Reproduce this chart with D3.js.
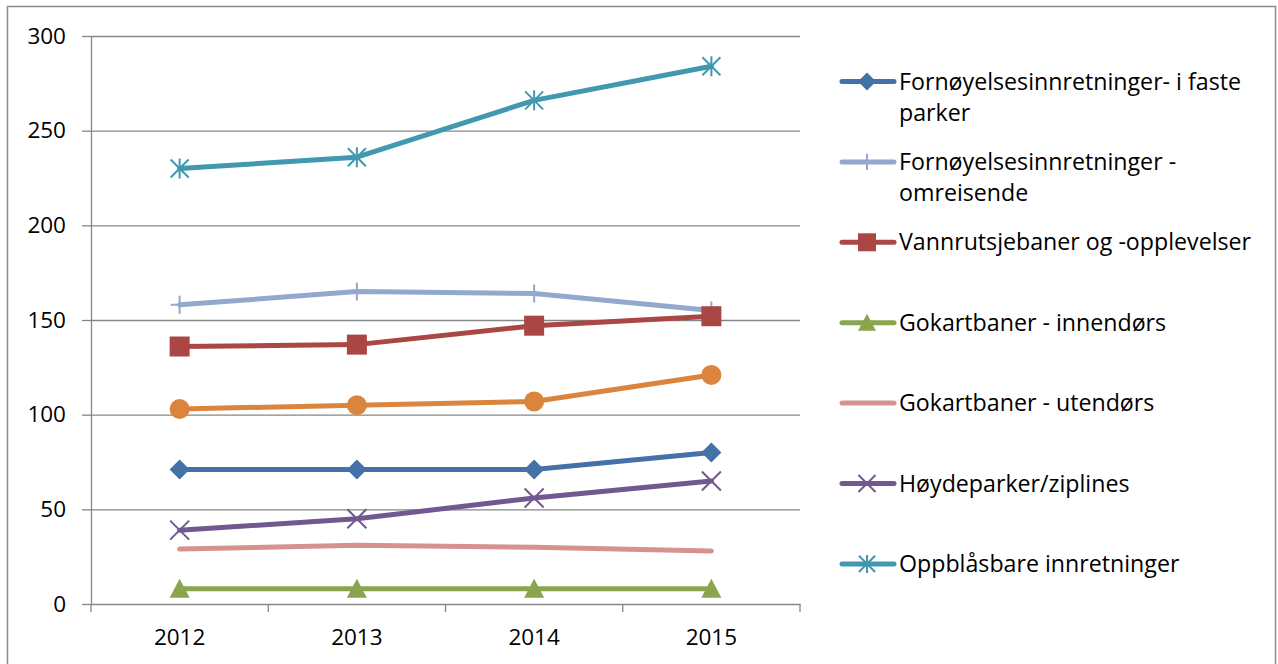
<!DOCTYPE html>
<html>
<head>
<meta charset="utf-8">
<script src="https://cdn.jsdelivr.net/npm/d3@7"></script>
<style>
  html, body { margin: 0; padding: 0; background: #fff; }
  svg { display: block; }
  text { font-family: "Open Sans", Lato, "Liberation Sans", sans-serif; }
</style>
</head>
<body>
<svg id="chart" width="1278" height="664"></svg>
<script>
// ---- data ----
const years = ["2012", "2013", "2014", "2015"];
const yTicks = [0, 50, 100, 150, 200, 250, 300];

const fasteParker = [71, 71, 71, 80];
const omreisende = [158, 165, 164, 155];
const vannrutsjebaner = [136, 137, 147, 152];
const gokartInnendors = [8, 8, 8, 8];
const gokartUtendors = [29, 31, 30, 28];
const hoydeparker = [39, 45, 56, 65];
const oppblasbare = [230, 236, 266, 284];
const ukjentSerie = [103, 105, 107, 121];

const seriesNames = [
  "Fornøyelsesinnretninger- i faste parker",
  "Fornøyelsesinnretninger - omreisende",
  "Vannrutsjebaner og -opplevelser",
  "Gokartbaner - innendørs",
  "Gokartbaner - utendørs",
  "Høydeparker/ziplines",
  "Oppblåsbare innretninger",
  ""
];
const legendLines = [
  ["Fornøyelsesinnretninger- i faste", "parker"],
  ["Fornøyelsesinnretninger -", "omreisende"],
  ["Vannrutsjebaner og -opplevelser"],
  ["Gokartbaner - innendørs"],
  ["Gokartbaner - utendørs"],
  ["Høydeparker/ziplines"],
  ["Oppblåsbare innretninger"]
];
const seriesValues = [fasteParker, omreisende, vannrutsjebaner, gokartInnendors,
                      gokartUtendors, hoydeparker, oppblasbare, ukjentSerie];
const seriesColors = ["#4471A7", "#92A8CD", "#AA4643", "#89A54E",
                      "#D6928F", "#71588F", "#4198AF", "#DB843D"];
const seriesMarkers = ["diamond", "plus", "square", "triangle",
                       "none", "x", "star", "circle"];
const inLegend = [true, true, true, true, true, true, true, false];

// ---- layout ----
const svg = d3.select("#chart");
const plotLeft = 91, plotRight = 800, plotTop = 36, plotBottom = 604;
const fontFam = "'Open Sans', Lato, sans-serif";

const x = d3.scaleBand().domain(years).range([plotLeft, plotRight]);
const y = d3.scaleLinear().domain([0, 300]).range([plotBottom, plotTop]);
const cx = d => x(d) + x.bandwidth() / 2;

// outer border
svg.append("rect")
  .attr("x", 7.5).attr("y", 6.5).attr("width", 1268).attr("height", 700)
  .attr("fill", "none").attr("stroke", "#8c8c8c").attr("stroke-width", 1.5);

// gridlines
const grid = svg.append("g").attr("transform", `translate(${plotLeft},0)`)
  .call(d3.axisLeft(y).tickValues(yTicks.filter(v => v > 0)).tickSize(-(plotRight - plotLeft)).tickFormat(""));
grid.select(".domain").remove();
grid.selectAll("line").attr("stroke", "#868686").attr("stroke-width", 1.3);

// y axis
const yAxis = svg.append("g").attr("transform", `translate(${plotLeft},0)`)
  .call(d3.axisLeft(y).tickValues(yTicks).tickSize(9).tickPadding(16).tickSizeOuter(0));
yAxis.select(".domain").attr("stroke", "#868686").attr("stroke-width", 1.3);
yAxis.selectAll("line").attr("stroke", "#868686").attr("stroke-width", 1.3);
yAxis.selectAll("text").attr("font-size", 22.5).attr("fill", "#000")
  .attr("font-family", fontFam);

// x axis (labels centred, tick marks between categories)
const xAxis = svg.append("g").attr("transform", `translate(0,${plotBottom})`)
  .call(d3.axisBottom(x).tickSize(0).tickPadding(25).tickSizeOuter(0));
xAxis.select(".domain").attr("stroke", "#868686").attr("stroke-width", 1.3);
xAxis.selectAll("text").attr("font-size", 22.5).attr("fill", "#000")
  .attr("font-family", fontFam);
const boundaries = years.map(d => x(d)).concat([x.range()[1]]);
svg.append("g").selectAll("line").data(boundaries).join("line")
  .attr("x1", d => d).attr("x2", d => d)
  .attr("y1", plotBottom).attr("y2", plotBottom + 8)
  .attr("stroke", "#868686").attr("stroke-width", 1.3);

// markers
function drawMarker(g, type, color, s) {
  const h = s / 2;
  if (type === "diamond") {
    g.append("path").attr("d", `M0,${-h}L${h},0L0,${h}L${-h},0Z`).attr("fill", color);
  } else if (type === "square") {
    g.append("rect").attr("x", -h).attr("y", -h).attr("width", s).attr("height", s).attr("fill", color);
  } else if (type === "circle") {
    g.append("circle").attr("r", h).attr("fill", color);
  } else if (type === "triangle") {
    g.append("path").attr("d", `M0,${-h}L${h},${h * 0.9}L${-h},${h * 0.9}Z`).attr("fill", color);
  } else if (type === "plus") {
    g.append("path").attr("d", `M0,${-h * 0.9}V${h * 0.9}M${-h * 0.9},0H${h * 0.9}`)
      .attr("stroke", color).attr("stroke-width", 2).attr("fill", "none");
  } else if (type === "x") {
    const k = h * 0.95;
    g.append("path").attr("d", `M${-k},${-k}L${k},${k}M${-k},${k}L${k},${-k}`)
      .attr("stroke", color).attr("stroke-width", 2).attr("fill", "none");
  } else if (type === "star") {
    const k = h * 0.9;
    g.append("path").attr("d", `M${-k},${-k}L${k},${k}M${-k},${k}L${k},${-k}M0,${-h}V${h}`)
      .attr("stroke", color).attr("stroke-width", 2).attr("fill", "none");
  }
}

// series lines (straight segments)
const line = d3.line()
  .x((d, i) => cx(years[i]))
  .y(d => y(d));

seriesValues.forEach((vals, si) => {
  const g = svg.append("g");
  g.append("path")
    .attr("d", line(vals))
    .attr("fill", "none")
    .attr("stroke", seriesColors[si])
    .attr("stroke-width", 5)
    .attr("stroke-linecap", "round")
    .attr("stroke-linejoin", "round");
  vals.forEach((v, i) => {
    const m = g.append("g").attr("transform", `translate(${cx(years[i])},${y(v)})`);
    drawMarker(m, seriesMarkers[si], seriesColors[si], 20);
  });
});

// legend
const legendTop = 81.5, legendStep = 80.4;
const legend = svg.append("g");
let li = 0;
seriesNames.forEach((name, si) => {
  if (!inLegend[si]) return;
  const yy = legendTop + li * legendStep;
  const g = legend.append("g").attr("transform", `translate(0,${yy})`);
  g.append("line").attr("x1", 842).attr("x2", 894).attr("y1", 0).attr("y2", 0)
    .attr("stroke", seriesColors[si]).attr("stroke-width", 5).attr("stroke-linecap", "round");
  const m = g.append("g").attr("transform", "translate(867,0)");
  drawMarker(m, seriesMarkers[si], seriesColors[si], 18);
  const t = g.append("text").attr("x", 899).attr("y", 0)
    .attr("font-size", 23.2).attr("fill", "#000").attr("font-family", fontFam);
  legendLines[li].forEach((ln, k) => {
    t.append("tspan").attr("x", 899).attr("dy", k === 0 ? "0.35em" : 31).text(ln);
  });
  li++;
});
</script>
</body>
</html>
